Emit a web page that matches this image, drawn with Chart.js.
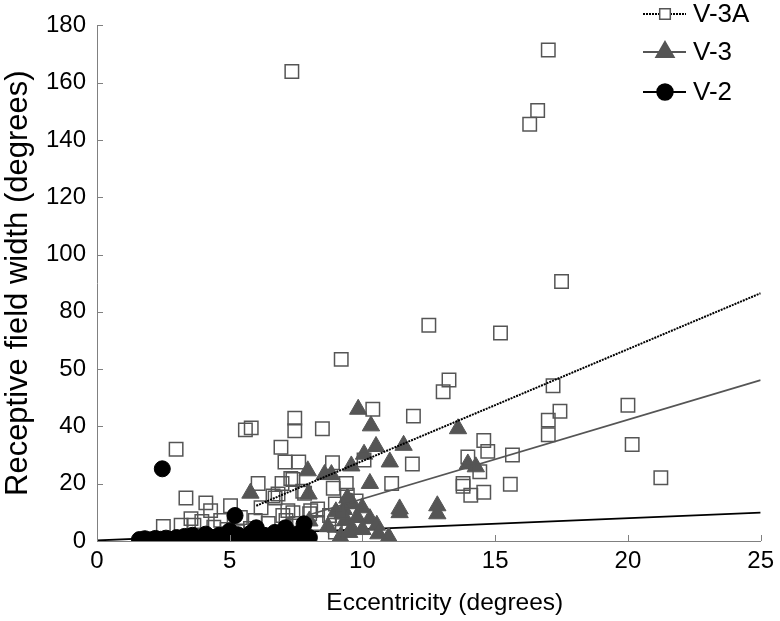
<!DOCTYPE html>
<html>
<head>
<meta charset="utf-8">
<script src="https://cdn.jsdelivr.net/npm/chart.js@4/dist/chart.umd.min.js"></script>
<style>
  html,body{margin:0;padding:0;background:#fff}
  #wrap{position:relative;width:780px;height:621px}
</style>
</head>
<body>
<div id="wrap"><canvas id="chart" width="780" height="621"></canvas></div>
<script>
'use strict';

// ── data ──
const xTicks = [0, 5, 10, 15, 20, 25];
const yTicks = [0, 20, 40, 60, 80, 100, 120, 140, 160, 180];
const yTickLabels = ['0', '20', '40', '50', '80', '100', '120', '140', '160', '180'];
const xTitle = 'Eccentricity (degrees)';
const yTitle = 'Receptive field width (degrees)';

// V-3A (open squares)
const v3aX = [7.34, 17.0, 16.6, 16.3, 17.5, 12.5, 15.2, 9.2, 13.26, 13.04, 17.18, 20.0, 17.44, 17.0, 17.0,
  14.57, 14.72, 15.65, 13.97, 14.42, 20.16, 13.79, 13.79, 14.08, 14.57, 15.57, 21.24,
  10.39, 11.92, 11.88, 11.1, 10.06, 9.39, 9.43, 9.76, 8.98, 8.31, 8.76, 8.01, 7.19, 8.94, 9.24, 8.98,
  2.98, 5.81, 5.59, 7.45, 7.45, 8.49, 6.93, 7.08, 7.6, 8.87, 8.9, 3.35, 6.07, 6.97, 7.38, 7.75,
  4.1, 4.28, 5.03, 6.71, 2.5, 3.54, 3.95, 4.66, 5.4, 6.63, 6.18, 5.96, 7.0, 6.45, 7.3, 7.12,
  3.17, 3.65, 4.4, 5.78, 6.82, 7.38, 8.05, 8.31, 7.56, 7.19, 7.82, 9.6, 4.9, 5.3];
const v3aY = [163.9, 171.4, 150.3, 145.5, 90.6, 75.3, 72.6, 63.4, 56.2, 52.1, 54.2, 47.4, 45.3, 42.2, 37.1,
  35.1, 31.3, 30.0, 29.3, 24.2, 33.7, 20.1, 19.1, 16.0, 17.0, 19.8, 22.1,
  46.0, 43.6, 26.9, 20.1, 28.3, 20.1, 16.0, 14.0, 12.9, 11.2, 8.9, 9.5, 10.6, 5.5, 5.5, 3.1,
  32.0, 39.5, 38.8, 42.9, 38.5, 39.2, 32.7, 27.6, 27.6, 27.3, 18.4, 15.0, 20.1, 20.1, 21.5, 17.4,
  13.3, 10.6, 12.3, 15.0, 5.1, 7.8, 6.8, 7.2, 8.2, 15.7, 11.6, 7.2, 8.9, 6.1, 21.8, 7.2,
  5.5, 5.5, 4.8, 4.4, 16.4, 9.9, 10.6, 6.1, 6.1, 2.7, 16.7, 9.0, 4.0, 3.2];

// V-3 (filled triangles)
const v3X = [9.84, 10.32, 10.51, 11.55, 13.6, 10.06, 11.03, 9.58, 7.94, 8.57, 8.83, 10.28, 11.4, 11.4,
  12.82, 12.82, 10.99, 9.17, 9.99, 10.28, 9.8, 9.6, 13.97, 14.27, 7.97, 5.78, 9.35, 9.6, 10.54,
  9.0, 9.5, 8.7, 10.0, 9.3, 8.0, 7.2, 10.6, 9.24, 9.43];
const v3Y = [46.0, 40.2, 33.0, 33.4, 39.2, 30.3, 27.6, 26.2, 24.5, 23.2, 23.2, 20.1, 11.2, 9.9,
  12.3, 9.5, 1.4, 1.4, 11.6, 7.8, 8.2, 13.3, 26.9, 25.9, 16.4, 16.7, 7.2, 4.4, 5.5,
  10.2, 3.0, 5.0, 4.0, 11.0, 7.0, 5.0, 2.5, 9.5, 15.0];

// V-2 (filled circles)
const v2X = [1.6, 1.8, 2.0, 2.2, 2.4, 2.6, 2.8, 3.0, 3.1, 3.3, 3.5, 3.6, 3.8, 4.0, 4.1, 4.3, 4.5, 4.6,
  4.8, 5.0, 5.1, 5.3, 5.5, 5.6, 5.8, 6.0, 6.1, 6.3, 6.5, 6.7, 6.9, 7.1, 7.3, 7.6, 7.8, 8.0, 2.46, 5.2];
const v2Y = [0.5, 0.8, 0.4, 0.9, 0.6, 1.0, 0.5, 1.2, 0.6, 1.6, 0.8, 2.0, 1.1, 0.6, 2.4, 1.3, 0.7, 2.0,
  1.5, 3.5, 0.9, 2.2, 1.2, 0.5, 2.8, 4.6, 0.4, 2.0, 1.4, 3.0, 0.8, 4.6, 1.8, 2.6, 6.0, 1.2, 25.2, 8.9];

// regression line end points
const fitV3AX = [6, 25];
const fitV3AY = [12.3, 86.5];
const fitV3X = [7.9, 25];
const fitV3Y = [8.9, 56.2];
const fitV2X = [0, 25];
const fitV2Y = [0.2, 9.9];

const pts = (xs, ys) => xs.map((x, i) => ({x, y: ys[i]}));

const FONT = "'Liberation Sans', Arial, sans-serif";
const AXIS = '#808080';
const GREY = '#555555';

// legend rows: label, marker, line style
const legendItems = [
  {text: 'V-3A', style: 'rect', radius: 7.5, fill: '#fff', stroke: GREY, line: '#000', dash: [2, 1]},
  {text: 'V-3', style: 'triangle', radius: 10.5, fill: GREY, stroke: GREY, line: GREY, dash: []},
  {text: 'V-2', style: 'circle', radius: 8, fill: '#000', stroke: '#000', line: '#000', dash: []},
];

const legendPlugin = {
  id: 'legendLines',
  afterDraw(chart) {
    const ctx = chart.ctx;
    const rows = [14, 52, 92];
    legendItems.forEach((it, i) => {
      const y = rows[i];
      ctx.save();
      ctx.strokeStyle = it.line; ctx.lineWidth = 2; ctx.setLineDash(it.dash);
      ctx.beginPath(); ctx.moveTo(643, y); ctx.lineTo(686, y); ctx.stroke();
      ctx.setLineDash([]);
      ctx.fillStyle = it.fill; ctx.strokeStyle = it.stroke; ctx.lineWidth = 1.5;
      Chart.helpers.drawPoint(ctx, {pointStyle: it.style, radius: it.radius, borderWidth: 1.5}, 665, y);
      ctx.fillStyle = '#000'; ctx.font = '26px ' + FONT;
      ctx.textAlign = 'left'; ctx.textBaseline = 'middle';
      ctx.fillText(it.text, 693, y + 1);
      ctx.restore();
    });
  }
};

// tick marks point into the plot area; x title sits a little right of centre
const innerTicks = {
  id: 'innerTicks',
  afterDraw(chart) {
    const {ctx, scales: {x, y}} = chart;
    ctx.save();
    ctx.strokeStyle = AXIS; ctx.lineWidth = 1;
    ctx.beginPath();
    xTicks.forEach(v => { const p = Math.round(x.getPixelForValue(v)) + 0.5; ctx.moveTo(p, y.bottom); ctx.lineTo(p, y.bottom - 6); });
    yTicks.forEach(v => { const p = Math.round(y.getPixelForValue(v)) + 0.5; ctx.moveTo(x.left, p); ctx.lineTo(x.left + 6, p); });
    ctx.stroke();
    ctx.fillStyle = '#000'; ctx.font = '24.5px ' + FONT;
    ctx.textAlign = 'center'; ctx.textBaseline = 'middle';
    ctx.fillText(xTitle, x.getPixelForValue(13.1), 603);
    ctx.restore();
  }
};

new Chart(document.getElementById('chart'), {
  type: 'scatter',
  data: {
    datasets: [
      {label: 'V-2', data: pts(v2X, v2Y), order: 1, pointStyle: 'circle', pointRadius: 8,
        backgroundColor: '#000', borderColor: '#000', borderWidth: 1},
      {label: 'V-3A', data: pts(v3aX, v3aY), order: 2, pointStyle: 'rect', pointRadius: 9.5,
        backgroundColor: 'rgba(255,255,255,0)', borderColor: GREY, borderWidth: 1.5},
      {label: 'V-3', data: pts(v3X, v3Y), order: 3, pointStyle: 'triangle', pointRadius: 10,
        backgroundColor: GREY, borderColor: GREY, borderWidth: 1},
      {label: 'fit V-3A', data: pts(fitV3AX, fitV3AY), order: 0, showLine: true, pointRadius: 0,
        borderColor: '#000', borderWidth: 2, borderDash: [2, 1]},
      {label: 'fit V-3', data: pts(fitV3X, fitV3Y), order: 0, showLine: true, pointRadius: 0,
        borderColor: GREY, borderWidth: 1.8},
      {label: 'fit V-2', data: pts(fitV2X, fitV2Y), order: 5, showLine: true, pointRadius: 0,
        borderColor: '#000', borderWidth: 1.8},
    ]
  },
  options: {
    responsive: false,
    animation: false,
    layout: {padding: {top: 13, right: 12, left: 0, bottom: 0}},
    plugins: {legend: {display: false}, tooltip: {enabled: false}},
    scales: {
      x: {
        type: 'linear', min: 0, max: 25,
        afterBuildTicks: s => { s.ticks = xTicks.map(v => ({value: v})); },
        afterFit: s => { s.height = 80; },
        grid: {display: false, drawTicks: false},
        border: {color: AXIS, width: 1},
        ticks: {color: '#000', font: {family: FONT, size: 24}, padding: 6, maxRotation: 0}
      },
      y: {
        type: 'linear', min: 0, max: 180,
        afterBuildTicks: s => { s.ticks = yTicks.map(v => ({value: v})); },
        afterFit: s => { s.width = 97; },
        grid: {display: false, drawTicks: false},
        border: {color: AXIS, width: 1},
        ticks: {color: '#000', font: {family: FONT, size: 24}, padding: 11,
          callback: (v, i) => yTickLabels[i]},
        title: {display: true, text: yTitle, color: '#000',
          font: {family: FONT, size: 31}, padding: {top: 0, bottom: 0}}
      }
    }
  },
  plugins: [innerTicks, legendPlugin]
});
</script>
</body>
</html>
